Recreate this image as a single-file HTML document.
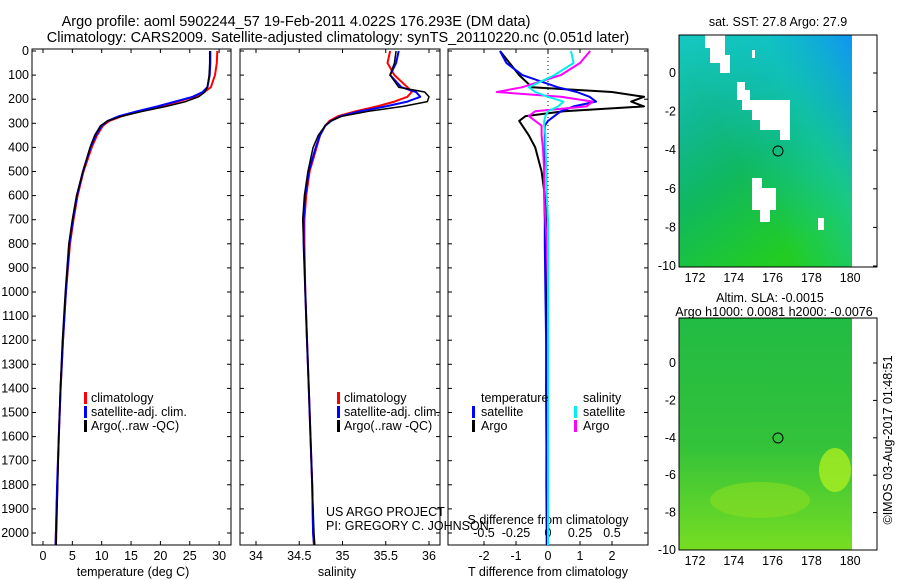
<!DOCTYPE html>
<html><head><meta charset="utf-8"><style>
body{margin:0;background:#fff;}
svg{font-family:"Liberation Sans",sans-serif;display:block}
text{font-size:12.5px;fill:#000}
text.title{font-size:14.5px}
</style></head><body>
<svg id="fig" width="900" height="580" viewBox="0 0 900 580">
<defs>
<linearGradient id="sstg" x1="0" y1="0" x2="0.5" y2="1">
<stop offset="0" stop-color="#15c8c0"/><stop offset="0.35" stop-color="#10b890"/><stop offset="0.6" stop-color="#0fb860"/><stop offset="1" stop-color="#22cc22"/></linearGradient>
<linearGradient id="sstg2" x1="1" y1="0" x2="0.3" y2="0.5">
<stop offset="0" stop-color="#1090ff" stop-opacity="0.9"/><stop offset="0.5" stop-color="#10c8e0" stop-opacity="0.5"/><stop offset="1" stop-color="#10c8e0" stop-opacity="0"/></linearGradient>
<linearGradient id="slag" x1="0" y1="0" x2="0" y2="1">
<stop offset="0" stop-color="#22bb44"/><stop offset="0.55" stop-color="#33c23a"/><stop offset="1" stop-color="#77dd22"/></linearGradient>
</defs>
<text class="title" x="296" y="26" text-anchor="middle">Argo profile: aoml 5902244_57 19-Feb-2011 4.022S 176.293E (DM data)</text>
<text class="title" x="338" y="42" text-anchor="middle">Climatology: CARS2009. Satellite-adjusted climatology: synTS_20110220.nc (0.051d later)</text>
<g id="plots"></g>
<g>
<text x="778" y="26" text-anchor="middle">sat. SST: 27.8 Argo: 27.9</text>
<rect x="679" y="35" width="173" height="232" fill="url(#sstg)"/>
<rect x="679" y="35" width="173" height="232" fill="url(#sstg2)"/>
<path d="M705,35 h20 v20 h5 v18 h-10 v-10 h-10 v-15 h-5z M737,82 h8 v8 h5 v10 h40 v40 h-10 v-10 h-20 v-10 h-8 v-10 h-10 v-10 h-5z M752,178 h10 v10 h14 v22 h-6 v12 h-10 v-12 h-8 v-32z M818,218 h6 v12 h-6z M752,50 h3 v8 h-3z" fill="#fff"/>
<circle cx="778" cy="151" r="5" fill="none" stroke="#000"/>
<rect x="679" y="35" width="198" height="232" fill="none" stroke="#000"/>
</g>
<g>
<text x="770" y="302" text-anchor="middle">Altim. SLA: -0.0015</text>
<text x="774" y="316" text-anchor="middle">Argo h1000: 0.0081 h2000: -0.0076</text>
<rect x="679" y="318" width="173" height="232" fill="url(#slag)"/>
<ellipse cx="835" cy="470" rx="16" ry="22" fill="#aaee22" opacity="0.8"/>
<ellipse cx="760" cy="500" rx="50" ry="18" fill="#88dd22" opacity="0.6"/>
<circle cx="778" cy="438" r="5" fill="none" stroke="#000"/>
<rect x="679" y="318" width="198" height="232" fill="none" stroke="#000"/>
</g>
<text transform="translate(892,440) rotate(-90)" text-anchor="middle">©IMOS 03-Aug-2017 01:48:51</text>
</svg>
<script>
const depths=[0,50,100,150,170,190,210,230,250,270,290,310,350,400,500,600,700,800,1000,1200,1400,1600,1800,2000,2050];
const tempClim=[29.7,29.6,29.3,28.6,27.5,25.8,23,20,16.5,13.5,11.3,10.2,9.2,8.3,6.9,5.9,5.2,4.6,3.9,3.4,3.0,2.7,2.45,2.2,2.15];
const tempSat=[28.5,28.5,28.4,28.0,27.2,25.5,22.5,19.5,16,13,11,10,9,8.1,6.8,5.8,5.1,4.5,3.9,3.4,3.0,2.7,2.4,2.2,2.15];
const tempArgo=[28.4,28.4,28.3,28.0,27.6,26.5,24.3,21,17,13.5,11.0,9.8,8.8,8.0,6.8,5.7,5.0,4.4,3.8,3.3,2.95,2.7,2.5,2.3,2.25];
const salClim=[35.55,35.52,35.6,35.75,35.8,35.75,35.6,35.4,35.15,34.95,34.85,34.8,34.74,34.7,34.62,34.58,34.56,34.56,34.57,34.59,34.61,34.63,34.65,34.66,34.67];
const salSat=[35.65,35.62,35.55,35.68,35.85,35.9,35.75,35.5,35.2,34.98,34.87,34.8,34.74,34.69,34.61,34.57,34.55,34.55,34.57,34.59,34.61,34.63,34.65,34.66,34.67];
const salArgo=[35.62,35.6,35.55,35.65,35.95,36.0,35.98,35.7,35.3,35.0,34.86,34.8,34.72,34.66,34.6,34.56,34.54,34.55,34.57,34.59,34.61,34.63,34.65,34.67,34.68];
const tdSat=[-1.5,-1.3,-0.8,0.3,0.9,1.3,1.5,0.8,0.4,0.2,0,-0.1,-0.1,-0.1,-0.12,-0.12,-0.1,-0.1,-0.08,-0.06,-0.05,-0.05,-0.03,-0.02,-0.02];
const tdArgo=[-1.5,-1.2,-0.9,-0.5,2.0,3.0,2.6,3.0,0.5,-0.7,-0.9,-0.8,-0.6,-0.4,-0.2,-0.1,-0.06,-0.05,-0.05,-0.05,-0.06,-0.05,-0.05,-0.04,-0.04];
const sdSat=[0.18,0.2,0.05,-0.15,-0.1,0.0,0.12,0.08,0.0,-0.02,-0.03,-0.03,-0.02,-0.02,-0.01,-0.01,0,0,0,0,0,0,0,0,0];
const sdArgo=[0.33,0.25,0.1,-0.2,-0.4,0.1,0.35,0.3,-0.1,-0.15,-0.1,-0.05,-0.05,-0.04,-0.03,-0.03,-0.02,-0.01,0,0,0,0,0,0,0];
const depthTicks=[0,100,200,300,400,500,600,700,800,900,1000,1100,1200,1300,1400,1500,1600,1700,1800,1900,2000];
const tTicks=[0,5,10,15,20,25,30];
const sTicks=[34,34.5,35,35.5,36];
const tdTicks=[-2,-1,0,1,2];
const sdTicks=[-0.5,-0.25,0,0.25,0.5];
const sdTickLabels=["-0.5","-0.25","0","0.25","0.5"];

const NS='http://www.w3.org/2000/svg';
const g=document.getElementById('plots');
const top0=49,bot=545;
const yD=d=>51+d*0.241;
function mk(tag,at,parent){const e=document.createElementNS(NS,tag);for(const k in at)e.setAttribute(k,at[k]);(parent||g).appendChild(e);return e;}
function txt(x,y,s,anchor,parent){const e=mk('text',{x:x,y:y,'text-anchor':anchor||'middle'},parent);e.textContent=s;return e;}
function frame(x0,x1,name){
  const f=mk('rect',{x:x0,y:top0,width:x1-x0,height:bot-top0,fill:'none',stroke:'#000'});
  
  
  depthTicks.forEach(d=>{mk('line',{x1:x0,x2:x0+4,y1:yD(d),y2:yD(d),stroke:'#000'});mk('line',{x1:x1,x2:x1-4,y1:yD(d),y2:yD(d),stroke:'#000'});});
}
function line(xs,sx,color,w,name){
  const pts=xs.map((v,i)=>sx(v).toFixed(1)+','+yD(depths[i]).toFixed(1)).join(' ');
  const p=mk('polyline',{points:pts,fill:'none',stroke:color,'stroke-width':w,'stroke-linejoin':'round'});
  
  
}
const xT=t=>43+t*5.87;
frame(32,231,'temperature-panel');
depthTicks.forEach(d=>{const t=txt(29,yD(d)+4,String(d),'end');});
tTicks.forEach(t=>{mk('line',{x1:xT(t),x2:xT(t),y1:bot,y2:bot-4,stroke:'#000'});mk('line',{x1:xT(t),x2:xT(t),y1:top0,y2:top0+4,stroke:'#000'});const e=txt(xT(t),560,String(t));});
let xl=txt(133,576,'temperature (deg C)');
line(tempClim,xT,'#f00',2,'temp-climatology-line');
line(tempSat,xT,'#00f',2,'temp-satellite-line');
line(tempArgo,xT,'#000',1.5,'temp-argo-line');
function legend(x,y,name){
  const lg=mk('g',{});
  [['#f00','climatology'],['#00f','satellite-adj. clim.'],['#000','Argo(..raw -QC)']].forEach((it,i)=>{
    mk('rect',{x:x,y:y+i*14-10,width:3,height:12,fill:it[0]},lg);txt(x+7,y+i*14,it[1],'start',lg);});
}
legend(84,402,'temp-legend');
const xS=s=>256+(s-34)*86.5;
frame(240,440,'salinity-panel');
sTicks.forEach(s=>{mk('line',{x1:xS(s),x2:xS(s),y1:bot,y2:bot-4,stroke:'#000'});mk('line',{x1:xS(s),x2:xS(s),y1:top0,y2:top0+4,stroke:'#000'});const e=txt(xS(s),560,String(s));});
xl=txt(337,576,'salinity');
line(salClim,xS,'#f00',2,'sal-climatology-line');
line(salSat,xS,'#00f',2,'sal-satellite-line');
line(salArgo,xS,'#000',1.5,'sal-argo-line');
legend(337,402,'salinity-legend');
let c1=txt(326,516,'US ARGO PROJECT','start');
let c2=txt(326,530,'PI: GREGORY C. JOHNSON','start');
const xTD=v=>548+v*32, xSD=v=>548+v*128;
frame(448,648,'difference-panel');
mk('line',{x1:548,x2:548,y1:top0,y2:bot,stroke:'#000','stroke-dasharray':'1,3'});
tdTicks.forEach(v=>{mk('line',{x1:xTD(v),x2:xTD(v),y1:bot,y2:bot-4,stroke:'#000'});mk('line',{x1:xTD(v),x2:xTD(v),y1:top0,y2:top0+4,stroke:'#000'});const e=txt(xTD(v),560,String(v));});
sdTicks.forEach((v,i)=>{const e=txt(xSD(v),537,sdTickLabels[i]);});
xl=txt(548,524,'S difference from climatology');
xl=txt(548,576,'T difference from climatology');
line(tdArgo,xTD,'#000',2,'tdiff-argo-line');
line(tdSat,xTD,'#00f',2,'tdiff-satellite-line');
line(sdArgo,xSD,'#f0f',2,'sdiff-argo-line');
line(sdSat,xSD,'#0ee',2,'sdiff-satellite-line');
const lg3=mk('g',{});
txt(481,402,'temperature','start',lg3);txt(583,402,'salinity','start',lg3);
[['#00f','satellite',472,416],['#000','Argo',472,430],['#0ee','satellite',574,416],['#f0f','Argo',574,430]].forEach(it=>{
  mk('rect',{x:it[2],y:it[3]-10,width:3,height:12,fill:it[0]},lg3);txt(it[2]+9,it[3],it[1],'start',lg3);});
function mapAxes(y0,y1,latTop,pxLat,name){
  const ax=mk('g',{});
  [172,174,176,178,180].forEach(l=>{const x=695+(l-172)*19.4;mk('line',{x1:x,x2:x,y1:y1,y2:y1-4,stroke:'#000'},ax);mk('line',{x1:x,x2:x,y1:y0,y2:y0+4,stroke:'#000'},ax);txt(x,y1+15,String(l),'middle',ax);});
  [0,-2,-4,-6,-8,-10].forEach(l=>{const y=latTop-l*pxLat;mk('line',{x1:679,x2:683,y1:y,y2:y,stroke:'#000'},ax);mk('line',{x1:877,x2:873,y1:y,y2:y,stroke:'#000'},ax);txt(676,y+4,String(l),'end',ax);});
}
mapAxes(35,267,73,19.3,'sst-map-axes');
mapAxes(318,550,363,18.7,'sla-map-axes');
</script>
</body></html>
